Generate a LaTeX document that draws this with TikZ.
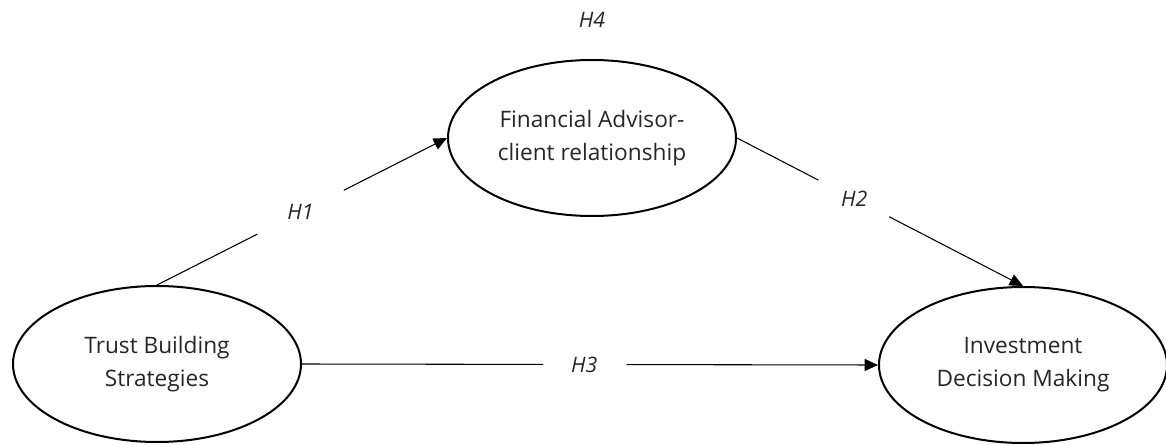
\documentclass[tikz,border=0pt]{standalone}
\usepackage{fontspec}
\setmainfont{Open Sans}
\usetikzlibrary{arrows.meta,shapes.geometric}

\begin{document}
\begin{tikzpicture}[x=0.75pt,y=-0.75pt,>={Triangle[length=10pt,width=9pt]},line cap=round,
  construct/.style={ellipse,draw,line width=1.5pt,minimum width=216pt,minimum height=117pt,inner sep=0pt,align=center,font=\fontsize{17}{24.75}\selectfont,text=black!85},
  hyp/.style={font=\fontsize{16}{19}\selectfont\itshape,text=black!85},
  link/.style={line width=0.8pt}]
\useasboundingbox (0,0) rectangle (1166,445);
\node[construct] (trust) at (157,364) {Trust Building\\Strategies};
\node[construct] (advisor) at (592,138) {Financial Advisor-\\client relationship};
\node[construct] (invest) at (1023,365) {Investment\\Decision Making};
\node[hyp] (h4) at (592,20) {H4};
\path (trust.north) -- coordinate[pos=0.345] (h1a) node[hyp,pos=0.495] (h1) {H1} coordinate[pos=0.645] (h1b) (advisor.west);
\path (advisor.east) -- coordinate[pos=0.284] (h2a) node[hyp,pos=0.41] (h2) {H2} coordinate[pos=0.533] (h2b) (invest.north);
\path (trust.east) -- coordinate[pos=0.418] (h3a) node[hyp,pos=0.49] (h3) {H3} coordinate[pos=0.564] (h3b) (invest.west);
\draw[link] (trust.north) -- (h1a);
\draw[link,->] (h1b) -- (advisor.west);
\draw[link] (advisor.east) -- (h2a);
\draw[link,->] (h2b) -- (invest.north);
\draw[link] (trust.east) -- (h3a);
\draw[link,->] (h3b) -- (invest.west);
\end{tikzpicture}
\end{document}
